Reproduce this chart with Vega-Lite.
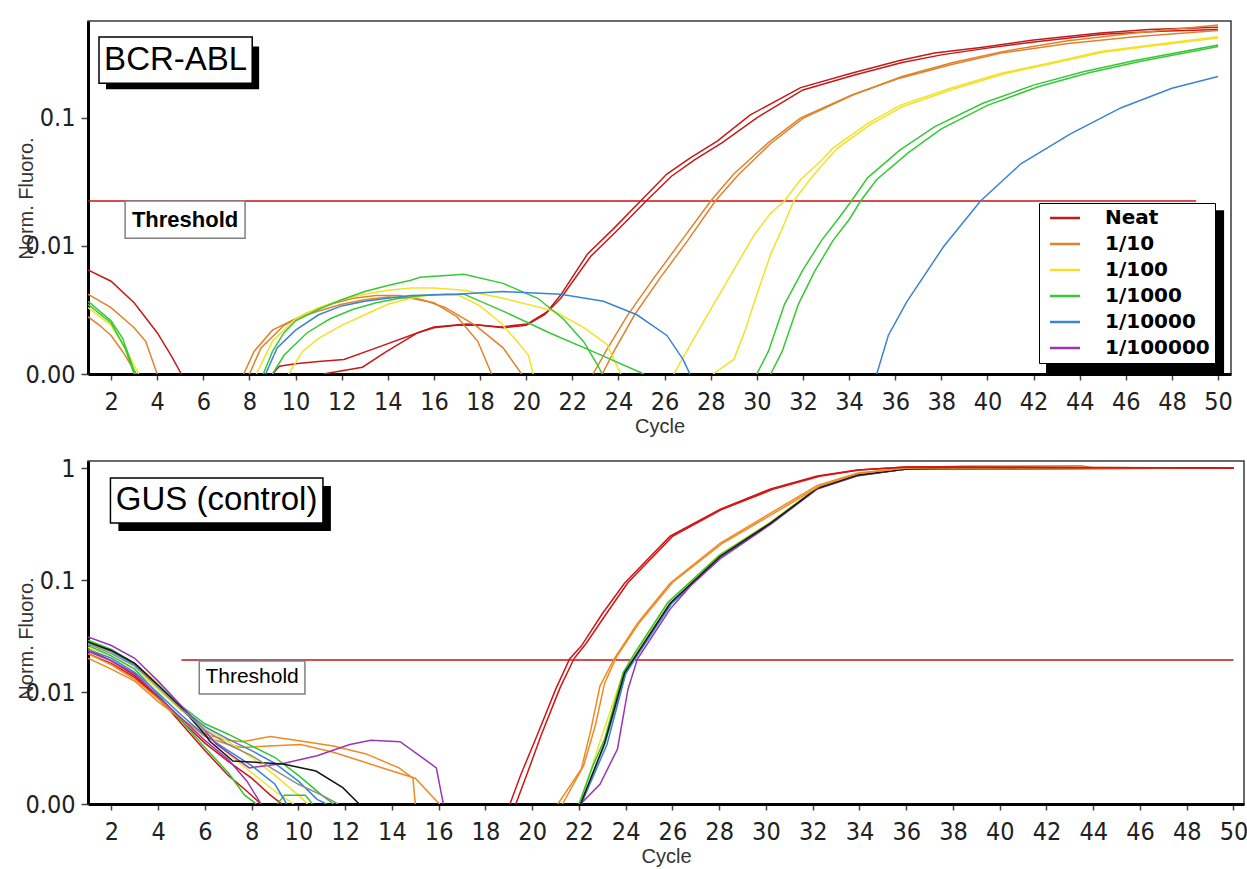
{
"$schema":"https://vega.github.io/schema/vega-lite/v6.json",
"background":"white",
"padding":{"left":15,"top":20,"right":0,"bottom":0},
"spacing":18,
"resolve":{"scale":{"color":"independent"}},
"config":{
 "view":{"stroke":"#3a3a3a","strokeWidth":1.5},
 "axis":{"gridColor":"#e3e3e3","gridWidth":1.5,"domainColor":"#000","domainWidth":3,"tickColor":"#444","tickWidth":1.5,
  "labelFont":"Liberation Sans Narrow, DejaVu Sans Condensed, sans-serif","labelFontSize":25,"labelColor":"#222",
  "titleFont":"Liberation Sans, Arial, sans-serif","titleFontSize":20,"titleFontWeight":"normal","titleColor":"#333"}
},
"datasets":{
"top":[
{"s":"Neat","r":"n0","c":1,"v":0.0065},{"s":"Neat","r":"n0","c":2,"v":0.0053},{"s":"Neat","r":"n0","c":3,"v":0.0036},{"s":"Neat","r":"n0","c":4,"v":0.0021},{"s":"Neat","r":"n0","c":4.6,"v":0.0014},{"s":"Neat","r":"n0","c":5.05,"v":0.001},
{"s":"Neat","r":"n1","c":9,"v":0.001},{"s":"Neat","r":"n1","c":9.3,"v":0.00115},{"s":"Neat","r":"n1","c":10,"v":0.0012},{"s":"Neat","r":"n1","c":11,"v":0.00125},{"s":"Neat","r":"n1","c":12.1,"v":0.0013},{"s":"Neat","r":"n1","c":13.5,"v":0.0016},{"s":"Neat","r":"n1","c":15.3,"v":0.0021},{"s":"Neat","r":"n1","c":16,"v":0.00233},{"s":"Neat","r":"n1","c":17.45,"v":0.00246},{"s":"Neat","r":"n1","c":18.9,"v":0.00233},{"s":"Neat","r":"n1","c":20.05,"v":0.00246},{"s":"Neat","r":"n1","c":20.9,"v":0.00305},{"s":"Neat","r":"n1","c":21.5,"v":0.00415},{"s":"Neat","r":"n1","c":22.65,"v":0.0086},{"s":"Neat","r":"n1","c":23.8,"v":0.0137},{"s":"Neat","r":"n1","c":24.96,"v":0.0224},{"s":"Neat","r":"n1","c":26.1,"v":0.0364},{"s":"Neat","r":"n1","c":27.1,"v":0.0485},{"s":"Neat","r":"n1","c":28.3,"v":0.066},{"s":"Neat","r":"n1","c":29.7,"v":0.105},{"s":"Neat","r":"n1","c":31.9,"v":0.172},{"s":"Neat","r":"n1","c":34.1,"v":0.223},{"s":"Neat","r":"n1","c":36.2,"v":0.28},{"s":"Neat","r":"n1","c":37.7,"v":0.32},{"s":"Neat","r":"n1","c":39.8,"v":0.356},{"s":"Neat","r":"n1","c":42,"v":0.405},{"s":"Neat","r":"n1","c":44.9,"v":0.46},{"s":"Neat","r":"n1","c":47,"v":0.49},{"s":"Neat","r":"n1","c":50,"v":0.51},
{"s":"Neat","r":"n2","c":11.2,"v":0.001},{"s":"Neat","r":"n2","c":12.9,"v":0.00113},{"s":"Neat","r":"n2","c":13.9,"v":0.00148},{"s":"Neat","r":"n2","c":15.3,"v":0.0021},{"s":"Neat","r":"n2","c":16,"v":0.0023},{"s":"Neat","r":"n2","c":17,"v":0.0024},{"s":"Neat","r":"n2","c":18,"v":0.0024},{"s":"Neat","r":"n2","c":19,"v":0.0023},{"s":"Neat","r":"n2","c":20,"v":0.0024},{"s":"Neat","r":"n2","c":20.8,"v":0.0029},{"s":"Neat","r":"n2","c":21.5,"v":0.0039},{"s":"Neat","r":"n2","c":22.8,"v":0.0083},{"s":"Neat","r":"n2","c":24,"v":0.0135},{"s":"Neat","r":"n2","c":25.2,"v":0.0224},{"s":"Neat","r":"n2","c":26.3,"v":0.035},{"s":"Neat","r":"n2","c":27.3,"v":0.047},{"s":"Neat","r":"n2","c":28.5,"v":0.064},{"s":"Neat","r":"n2","c":30,"v":0.1},{"s":"Neat","r":"n2","c":32,"v":0.165},{"s":"Neat","r":"n2","c":34.2,"v":0.215},{"s":"Neat","r":"n2","c":36.3,"v":0.27},{"s":"Neat","r":"n2","c":38,"v":0.31},{"s":"Neat","r":"n2","c":40,"v":0.35},{"s":"Neat","r":"n2","c":42.2,"v":0.395},{"s":"Neat","r":"n2","c":45,"v":0.45},{"s":"Neat","r":"n2","c":47.5,"v":0.475},{"s":"Neat","r":"n2","c":50,"v":0.49},
{"s":"1/10","r":"o0","c":1,"v":0.0042},{"s":"1/10","r":"o0","c":2,"v":0.0033},{"s":"1/10","r":"o0","c":3,"v":0.0023},{"s":"1/10","r":"o0","c":3.5,"v":0.0018},{"s":"1/10","r":"o0","c":4,"v":0.001},
{"s":"1/10","r":"o0b","c":1,"v":0.0028},{"s":"1/10","r":"o0b","c":1.5,"v":0.0024},{"s":"1/10","r":"o0b","c":2,"v":0.002},{"s":"1/10","r":"o0b","c":2.5,"v":0.0015},{"s":"1/10","r":"o0b","c":3.1,"v":0.001},
{"s":"1/10","r":"oh1","c":7.75,"v":0.001},{"s":"1/10","r":"oh1","c":8.2,"v":0.0015},{"s":"1/10","r":"oh1","c":9,"v":0.0022},{"s":"1/10","r":"oh1","c":10,"v":0.0027},{"s":"1/10","r":"oh1","c":11,"v":0.0031},{"s":"1/10","r":"oh1","c":12,"v":0.0035},{"s":"1/10","r":"oh1","c":13,"v":0.0038},{"s":"1/10","r":"oh1","c":14,"v":0.004},{"s":"1/10","r":"oh1","c":15,"v":0.0039},{"s":"1/10","r":"oh1","c":16,"v":0.0036},{"s":"1/10","r":"oh1","c":17,"v":0.0028},{"s":"1/10","r":"oh1","c":17.9,"v":0.0018},{"s":"1/10","r":"oh1","c":18.5,"v":0.001},
{"s":"1/10","r":"oh2","c":8,"v":0.001},{"s":"1/10","r":"oh2","c":8.5,"v":0.0016},{"s":"1/10","r":"oh2","c":9.5,"v":0.0024},{"s":"1/10","r":"oh2","c":10.5,"v":0.003},{"s":"1/10","r":"oh2","c":11.5,"v":0.0035},{"s":"1/10","r":"oh2","c":12.5,"v":0.0039},{"s":"1/10","r":"oh2","c":13.5,"v":0.0041},{"s":"1/10","r":"oh2","c":14.5,"v":0.0041},{"s":"1/10","r":"oh2","c":15.5,"v":0.0038},{"s":"1/10","r":"oh2","c":16.5,"v":0.0033},{"s":"1/10","r":"oh2","c":17.8,"v":0.0024},{"s":"1/10","r":"oh2","c":19,"v":0.0016},{"s":"1/10","r":"oh2","c":19.8,"v":0.001},
{"s":"1/10","r":"om1","c":22.9,"v":0.001},{"s":"1/10","r":"om1","c":23.5,"v":0.00156},{"s":"1/10","r":"om1","c":24.4,"v":0.00288},{"s":"1/10","r":"om1","c":25.5,"v":0.0055},{"s":"1/10","r":"om1","c":26.7,"v":0.0108},{"s":"1/10","r":"om1","c":28,"v":0.0224},{"s":"1/10","r":"om1","c":29,"v":0.0364},{"s":"1/10","r":"om1","c":30.5,"v":0.064},{"s":"1/10","r":"om1","c":31.9,"v":0.1},{"s":"1/10","r":"om1","c":34.1,"v":0.15},{"s":"1/10","r":"om1","c":36.2,"v":0.204},{"s":"1/10","r":"om1","c":38.4,"v":0.26},{"s":"1/10","r":"om1","c":40.6,"v":0.32},{"s":"1/10","r":"om1","c":43.5,"v":0.38},{"s":"1/10","r":"om1","c":46.4,"v":0.43},{"s":"1/10","r":"om1","c":50,"v":0.48},
{"s":"1/10","r":"om2","c":23.3,"v":0.001},{"s":"1/10","r":"om2","c":23.8,"v":0.0015},{"s":"1/10","r":"om2","c":24.7,"v":0.0029},{"s":"1/10","r":"om2","c":25.8,"v":0.0056},{"s":"1/10","r":"om2","c":27,"v":0.011},{"s":"1/10","r":"om2","c":28.2,"v":0.0224},{"s":"1/10","r":"om2","c":29.2,"v":0.036},{"s":"1/10","r":"om2","c":30.6,"v":0.063},{"s":"1/10","r":"om2","c":32,"v":0.099},{"s":"1/10","r":"om2","c":34.2,"v":0.152},{"s":"1/10","r":"om2","c":36.3,"v":0.21},{"s":"1/10","r":"om2","c":38.5,"v":0.27},{"s":"1/10","r":"om2","c":40.7,"v":0.33},{"s":"1/10","r":"om2","c":43.5,"v":0.4},{"s":"1/10","r":"om2","c":46.4,"v":0.46},{"s":"1/10","r":"om2","c":50,"v":0.53},
{"s":"1/100","r":"y0","c":1,"v":0.0033},{"s":"1/100","r":"y0","c":2,"v":0.0024},{"s":"1/100","r":"y0","c":2.6,"v":0.0016},{"s":"1/100","r":"y0","c":3.2,"v":0.001},
{"s":"1/100","r":"yh1","c":8.3,"v":0.001},{"s":"1/100","r":"yh1","c":9,"v":0.0018},{"s":"1/100","r":"yh1","c":10,"v":0.0027},{"s":"1/100","r":"yh1","c":11,"v":0.0033},{"s":"1/100","r":"yh1","c":12,"v":0.0038},{"s":"1/100","r":"yh1","c":13,"v":0.0042},{"s":"1/100","r":"yh1","c":14,"v":0.0045},{"s":"1/100","r":"yh1","c":15,"v":0.0047},{"s":"1/100","r":"yh1","c":16,"v":0.0047},{"s":"1/100","r":"yh1","c":17.3,"v":0.0045},{"s":"1/100","r":"yh1","c":19,"v":0.0039},{"s":"1/100","r":"yh1","c":21.2,"v":0.0031},{"s":"1/100","r":"yh1","c":22.5,"v":0.0023},{"s":"1/100","r":"yh1","c":23.5,"v":0.0017},{"s":"1/100","r":"yh1","c":24.1,"v":0.001},
{"s":"1/100","r":"yh2","c":9.7,"v":0.001},{"s":"1/100","r":"yh2","c":10.3,"v":0.0015},{"s":"1/100","r":"yh2","c":11,"v":0.0019},{"s":"1/100","r":"yh2","c":12,"v":0.0024},{"s":"1/100","r":"yh2","c":13,"v":0.0029},{"s":"1/100","r":"yh2","c":14,"v":0.0035},{"s":"1/100","r":"yh2","c":15,"v":0.0039},{"s":"1/100","r":"yh2","c":16,"v":0.0042},{"s":"1/100","r":"yh2","c":17.1,"v":0.0041},{"s":"1/100","r":"yh2","c":18,"v":0.0034},{"s":"1/100","r":"yh2","c":18.9,"v":0.0025},{"s":"1/100","r":"yh2","c":19.6,"v":0.0018},{"s":"1/100","r":"yh2","c":20.1,"v":0.0014},{"s":"1/100","r":"yh2","c":20.3,"v":0.001},
{"s":"1/100","r":"ym1","c":26.4,"v":0.001},{"s":"1/100","r":"ym1","c":27.2,"v":0.0018},{"s":"1/100","r":"ym1","c":28,"v":0.0032},{"s":"1/100","r":"ym1","c":29,"v":0.0065},{"s":"1/100","r":"ym1","c":29.9,"v":0.0123},{"s":"1/100","r":"ym1","c":30.6,"v":0.018},{"s":"1/100","r":"ym1","c":31.2,"v":0.0224},{"s":"1/100","r":"ym1","c":31.9,"v":0.033},{"s":"1/100","r":"ym1","c":32.8,"v":0.0464},{"s":"1/100","r":"ym1","c":33.3,"v":0.058},{"s":"1/100","r":"ym1","c":34.8,"v":0.09},{"s":"1/100","r":"ym1","c":36.2,"v":0.125},{"s":"1/100","r":"ym1","c":38.4,"v":0.17},{"s":"1/100","r":"ym1","c":40.6,"v":0.223},{"s":"1/100","r":"ym1","c":42.8,"v":0.27},{"s":"1/100","r":"ym1","c":44.9,"v":0.33},{"s":"1/100","r":"ym1","c":47.1,"v":0.37},{"s":"1/100","r":"ym1","c":50,"v":0.43},
{"s":"1/100","r":"ym2","c":28.1,"v":0.001},{"s":"1/100","r":"ym2","c":29,"v":0.0013},{"s":"1/100","r":"ym2","c":29.5,"v":0.0022},{"s":"1/100","r":"ym2","c":29.9,"v":0.0037},{"s":"1/100","r":"ym2","c":30.6,"v":0.0086},{"s":"1/100","r":"ym2","c":31.2,"v":0.015},{"s":"1/100","r":"ym2","c":31.6,"v":0.0224},{"s":"1/100","r":"ym2","c":32.3,"v":0.033},{"s":"1/100","r":"ym2","c":32.8,"v":0.042},{"s":"1/100","r":"ym2","c":33.5,"v":0.058},{"s":"1/100","r":"ym2","c":34.9,"v":0.088},{"s":"1/100","r":"ym2","c":36.3,"v":0.122},{"s":"1/100","r":"ym2","c":38.5,"v":0.167},{"s":"1/100","r":"ym2","c":40.7,"v":0.22},{"s":"1/100","r":"ym2","c":42.9,"v":0.268},{"s":"1/100","r":"ym2","c":45,"v":0.325},{"s":"1/100","r":"ym2","c":47.2,"v":0.365},{"s":"1/100","r":"ym2","c":50,"v":0.42},
{"s":"1/1000","r":"g0","c":1,"v":0.0037},{"s":"1/1000","r":"g0","c":2,"v":0.0026},{"s":"1/1000","r":"g0","c":2.5,"v":0.0019},{"s":"1/1000","r":"g0","c":3.05,"v":0.001},
{"s":"1/1000","r":"g0b","c":1,"v":0.0035},{"s":"1/1000","r":"g0b","c":2,"v":0.0025},{"s":"1/1000","r":"g0b","c":2.6,"v":0.0016},{"s":"1/1000","r":"g0b","c":3,"v":0.001},
{"s":"1/1000","r":"gh1","c":8.6,"v":0.001},{"s":"1/1000","r":"gh1","c":9,"v":0.0015},{"s":"1/1000","r":"gh1","c":9.5,"v":0.0021},{"s":"1/1000","r":"gh1","c":10,"v":0.0026},{"s":"1/1000","r":"gh1","c":11,"v":0.0032},{"s":"1/1000","r":"gh1","c":12,"v":0.0038},{"s":"1/1000","r":"gh1","c":13,"v":0.0044},{"s":"1/1000","r":"gh1","c":14,"v":0.0049},{"s":"1/1000","r":"gh1","c":15,"v":0.0054},{"s":"1/1000","r":"gh1","c":15.4,"v":0.0057},{"s":"1/1000","r":"gh1","c":17.3,"v":0.006},{"s":"1/1000","r":"gh1","c":19,"v":0.0051},{"s":"1/1000","r":"gh1","c":20.5,"v":0.0039},{"s":"1/1000","r":"gh1","c":21.6,"v":0.0027},{"s":"1/1000","r":"gh1","c":22.5,"v":0.00178},{"s":"1/1000","r":"gh1","c":23.1,"v":0.00117},{"s":"1/1000","r":"gh1","c":23.3,"v":0.001},
{"s":"1/1000","r":"gh2","c":9,"v":0.001},{"s":"1/1000","r":"gh2","c":9.5,"v":0.0014},{"s":"1/1000","r":"gh2","c":10.5,"v":0.0021},{"s":"1/1000","r":"gh2","c":11.5,"v":0.0027},{"s":"1/1000","r":"gh2","c":12.5,"v":0.0032},{"s":"1/1000","r":"gh2","c":13.5,"v":0.0036},{"s":"1/1000","r":"gh2","c":14.5,"v":0.0039},{"s":"1/1000","r":"gh2","c":15.5,"v":0.0041},{"s":"1/1000","r":"gh2","c":16.5,"v":0.0042},{"s":"1/1000","r":"gh2","c":17.3,"v":0.0042},{"s":"1/1000","r":"gh2","c":19,"v":0.0031},{"s":"1/1000","r":"gh2","c":21,"v":0.0021},{"s":"1/1000","r":"gh2","c":23,"v":0.00147},{"s":"1/1000","r":"gh2","c":25.1,"v":0.001},
{"s":"1/1000","r":"gm1","c":30,"v":0.001},{"s":"1/1000","r":"gm1","c":30.5,"v":0.0015},{"s":"1/1000","r":"gm1","c":31.2,"v":0.0035},{"s":"1/1000","r":"gm1","c":32,"v":0.0065},{"s":"1/1000","r":"gm1","c":32.8,"v":0.011},{"s":"1/1000","r":"gm1","c":33.5,"v":0.016},{"s":"1/1000","r":"gm1","c":34.1,"v":0.0224},{"s":"1/1000","r":"gm1","c":34.8,"v":0.034},{"s":"1/1000","r":"gm1","c":36.2,"v":0.056},{"s":"1/1000","r":"gm1","c":37.7,"v":0.085},{"s":"1/1000","r":"gm1","c":39.8,"v":0.13},{"s":"1/1000","r":"gm1","c":42,"v":0.18},{"s":"1/1000","r":"gm1","c":44.2,"v":0.23},{"s":"1/1000","r":"gm1","c":46.4,"v":0.28},{"s":"1/1000","r":"gm1","c":50,"v":0.37},
{"s":"1/1000","r":"gm2","c":30.6,"v":0.001},{"s":"1/1000","r":"gm2","c":31.1,"v":0.0015},{"s":"1/1000","r":"gm2","c":31.8,"v":0.0035},{"s":"1/1000","r":"gm2","c":32.5,"v":0.0063},{"s":"1/1000","r":"gm2","c":33.3,"v":0.011},{"s":"1/1000","r":"gm2","c":34,"v":0.016},{"s":"1/1000","r":"gm2","c":34.5,"v":0.0224},{"s":"1/1000","r":"gm2","c":35.2,"v":0.033},{"s":"1/1000","r":"gm2","c":36.6,"v":0.054},{"s":"1/1000","r":"gm2","c":38,"v":0.082},{"s":"1/1000","r":"gm2","c":40,"v":0.125},{"s":"1/1000","r":"gm2","c":42.2,"v":0.175},{"s":"1/1000","r":"gm2","c":44.4,"v":0.225},{"s":"1/1000","r":"gm2","c":46.6,"v":0.275},{"s":"1/1000","r":"gm2","c":50,"v":0.36},
{"s":"1/10000","r":"bh","c":8.7,"v":0.001},{"s":"1/10000","r":"bh","c":9.2,"v":0.0016},{"s":"1/10000","r":"bh","c":10,"v":0.0022},{"s":"1/10000","r":"bh","c":11,"v":0.0029},{"s":"1/10000","r":"bh","c":12,"v":0.0034},{"s":"1/10000","r":"bh","c":13,"v":0.0037},{"s":"1/10000","r":"bh","c":14,"v":0.0039},{"s":"1/10000","r":"bh","c":15,"v":0.0041},{"s":"1/10000","r":"bh","c":17,"v":0.0042},{"s":"1/10000","r":"bh","c":19,"v":0.0044},{"s":"1/10000","r":"bh","c":21.5,"v":0.0042},{"s":"1/10000","r":"bh","c":23.35,"v":0.0037},{"s":"1/10000","r":"bh","c":24.8,"v":0.0029},{"s":"1/10000","r":"bh","c":26.1,"v":0.002},{"s":"1/10000","r":"bh","c":26.8,"v":0.0013},{"s":"1/10000","r":"bh","c":27.1,"v":0.001},
{"s":"1/10000","r":"bm","c":35.2,"v":0.001},{"s":"1/10000","r":"bm","c":35.7,"v":0.002},{"s":"1/10000","r":"bm","c":36.5,"v":0.00366},{"s":"1/10000","r":"bm","c":38.1,"v":0.0099},{"s":"1/10000","r":"bm","c":39.7,"v":0.0224},{"s":"1/10000","r":"bm","c":41.45,"v":0.0438},{"s":"1/10000","r":"bm","c":43.6,"v":0.075},{"s":"1/10000","r":"bm","c":45.8,"v":0.12},{"s":"1/10000","r":"bm","c":48,"v":0.17},{"s":"1/10000","r":"bm","c":50,"v":0.21}
],
"bot":[
{"s":"Neat","r":"ra","c":1,"v":0.022},{"s":"Neat","r":"ra","c":2,"v":0.018},{"s":"Neat","r":"ra","c":3,"v":0.0135},{"s":"Neat","r":"ra","c":4,"v":0.0088},{"s":"Neat","r":"ra","c":5,"v":0.0055},{"s":"Neat","r":"ra","c":6,"v":0.0035},{"s":"Neat","r":"ra","c":7,"v":0.0024},{"s":"Neat","r":"ra","c":8,"v":0.0017},{"s":"Neat","r":"ra","c":8.8,"v":0.0012},{"s":"Neat","r":"ra","c":9.3,"v":0.001},
{"s":"Neat","r":"rb","c":1,"v":0.024},{"s":"Neat","r":"rb","c":2,"v":0.019},{"s":"Neat","r":"rb","c":3,"v":0.014},{"s":"Neat","r":"rb","c":4,"v":0.009},{"s":"Neat","r":"rb","c":5,"v":0.0052},{"s":"Neat","r":"rb","c":6,"v":0.003},{"s":"Neat","r":"rb","c":7,"v":0.0018},{"s":"Neat","r":"rb","c":7.8,"v":0.0013},{"s":"Neat","r":"rb","c":8.4,"v":0.001},
{"s":"1/10","r":"oa","c":1,"v":0.02},{"s":"1/10","r":"oa","c":2,"v":0.016},{"s":"1/10","r":"oa","c":3,"v":0.0125},{"s":"1/10","r":"oa","c":4,"v":0.0082},{"s":"1/10","r":"oa","c":5,"v":0.0057},{"s":"1/10","r":"oa","c":6,"v":0.0042},{"s":"1/10","r":"oa","c":7,"v":0.0037},{"s":"1/10","r":"oa","c":7.6,"v":0.0036},{"s":"1/10","r":"oa","c":8.8,"v":0.004},{"s":"1/10","r":"oa","c":10.1,"v":0.00365},{"s":"1/10","r":"oa","c":11.5,"v":0.0033},{"s":"1/10","r":"oa","c":12.9,"v":0.0028},{"s":"1/10","r":"oa","c":14.3,"v":0.0021},{"s":"1/10","r":"oa","c":14.9,"v":0.0017},{"s":"1/10","r":"oa","c":15,"v":0.001},
{"s":"1/10","r":"ob","c":1,"v":0.022},{"s":"1/10","r":"ob","c":2,"v":0.0175},{"s":"1/10","r":"ob","c":3,"v":0.013},{"s":"1/10","r":"ob","c":4,"v":0.0087},{"s":"1/10","r":"ob","c":5,"v":0.0058},{"s":"1/10","r":"ob","c":6,"v":0.004},{"s":"1/10","r":"ob","c":7,"v":0.0034},{"s":"1/10","r":"ob","c":7.6,"v":0.0032},{"s":"1/10","r":"ob","c":10.1,"v":0.0034},{"s":"1/10","r":"ob","c":11.5,"v":0.0029},{"s":"1/10","r":"ob","c":13.6,"v":0.0021},{"s":"1/10","r":"ob","c":15,"v":0.0017},{"s":"1/10","r":"ob","c":15.9,"v":0.00107},{"s":"1/10","r":"ob","c":16.05,"v":0.001},
{"s":"1/100","r":"ya","c":1,"v":0.027},{"s":"1/100","r":"ya","c":2,"v":0.023},{"s":"1/100","r":"ya","c":3,"v":0.018},{"s":"1/100","r":"ya","c":4,"v":0.012},{"s":"1/100","r":"ya","c":5,"v":0.0072},{"s":"1/100","r":"ya","c":6,"v":0.0045},{"s":"1/100","r":"ya","c":7,"v":0.0028},{"s":"1/100","r":"ya","c":8,"v":0.0019},{"s":"1/100","r":"ya","c":9,"v":0.0013},{"s":"1/100","r":"ya","c":9.8,"v":0.001},
{"s":"1/100","r":"yb","c":1,"v":0.025},{"s":"1/100","r":"yb","c":2,"v":0.021},{"s":"1/100","r":"yb","c":3,"v":0.016},{"s":"1/100","r":"yb","c":4,"v":0.0105},{"s":"1/100","r":"yb","c":5,"v":0.0068},{"s":"1/100","r":"yb","c":6,"v":0.0048},{"s":"1/100","r":"yb","c":7,"v":0.0036},{"s":"1/100","r":"yb","c":8,"v":0.0026},{"s":"1/100","r":"yb","c":9,"v":0.0018},{"s":"1/100","r":"yb","c":10,"v":0.0012},{"s":"1/100","r":"yb","c":10.4,"v":0.001},
{"s":"1/1000","r":"ga","c":1,"v":0.029},{"s":"1/1000","r":"ga","c":2,"v":0.024},{"s":"1/1000","r":"ga","c":3,"v":0.018},{"s":"1/1000","r":"ga","c":4,"v":0.0115},{"s":"1/1000","r":"ga","c":5,"v":0.0075},{"s":"1/1000","r":"ga","c":6,"v":0.0052},{"s":"1/1000","r":"ga","c":7,"v":0.0042},{"s":"1/1000","r":"ga","c":8,"v":0.0033},{"s":"1/1000","r":"ga","c":9,"v":0.0026},{"s":"1/1000","r":"ga","c":10,"v":0.0018},{"s":"1/1000","r":"ga","c":11,"v":0.0012},{"s":"1/1000","r":"ga","c":11.5,"v":0.001},
{"s":"1/1000","r":"gb","c":1,"v":0.026},{"s":"1/1000","r":"gb","c":2,"v":0.021},{"s":"1/1000","r":"gb","c":3,"v":0.016},{"s":"1/1000","r":"gb","c":4,"v":0.0095},{"s":"1/1000","r":"gb","c":5,"v":0.0055},{"s":"1/1000","r":"gb","c":6,"v":0.0032},{"s":"1/1000","r":"gb","c":7,"v":0.0019},{"s":"1/1000","r":"gb","c":7.7,"v":0.0012},{"s":"1/1000","r":"gb","c":8.2,"v":0.001},
{"s":"1/1000","r":"gc","c":9.1,"v":0.001},{"s":"1/1000","r":"gc","c":9.4,"v":0.0012},{"s":"1/1000","r":"gc","c":10.3,"v":0.0012},{"s":"1/1000","r":"gc","c":10.6,"v":0.001},
{"s":"1/10000","r":"ba","c":1,"v":0.028},{"s":"1/10000","r":"ba","c":2,"v":0.023},{"s":"1/10000","r":"ba","c":3,"v":0.0175},{"s":"1/10000","r":"ba","c":4,"v":0.0112},{"s":"1/10000","r":"ba","c":5,"v":0.0072},{"s":"1/10000","r":"ba","c":6,"v":0.0049},{"s":"1/10000","r":"ba","c":7,"v":0.0038},{"s":"1/10000","r":"ba","c":8,"v":0.003},{"s":"1/10000","r":"ba","c":9,"v":0.0023},{"s":"1/10000","r":"ba","c":10,"v":0.0016},{"s":"1/10000","r":"ba","c":10.8,"v":0.0011},{"s":"1/10000","r":"ba","c":11.2,"v":0.001},
{"s":"1/10000","r":"bb","c":1,"v":0.024},{"s":"1/10000","r":"bb","c":2,"v":0.02},{"s":"1/10000","r":"bb","c":3,"v":0.015},{"s":"1/10000","r":"bb","c":4,"v":0.0098},{"s":"1/10000","r":"bb","c":5,"v":0.0062},{"s":"1/10000","r":"bb","c":6,"v":0.0041},{"s":"1/10000","r":"bb","c":7,"v":0.003},{"s":"1/10000","r":"bb","c":8,"v":0.0022},{"s":"1/10000","r":"bb","c":9,"v":0.0015},{"s":"1/10000","r":"bb","c":9.5,"v":0.001},
{"s":"1/100000","r":"pa","c":1,"v":0.031},{"s":"1/100000","r":"pa","c":2,"v":0.026},{"s":"1/100000","r":"pa","c":3,"v":0.02},{"s":"1/100000","r":"pa","c":4,"v":0.0125},{"s":"1/100000","r":"pa","c":5,"v":0.0075},{"s":"1/100000","r":"pa","c":6,"v":0.0045},{"s":"1/100000","r":"pa","c":6.5,"v":0.0034},{"s":"1/100000","r":"pa","c":7.9,"v":0.0021},{"s":"1/100000","r":"pa","c":9.35,"v":0.0023},{"s":"1/100000","r":"pa","c":10.8,"v":0.0027},{"s":"1/100000","r":"pa","c":12.2,"v":0.0034},{"s":"1/100000","r":"pa","c":13.1,"v":0.0037},{"s":"1/100000","r":"pa","c":14.35,"v":0.0036},{"s":"1/100000","r":"pa","c":15.3,"v":0.0026},{"s":"1/100000","r":"pa","c":15.9,"v":0.0021},{"s":"1/100000","r":"pa","c":16.2,"v":0.001},
{"s":"1/100000","r":"pb","c":1,"v":0.023},{"s":"1/100000","r":"pb","c":2,"v":0.019},{"s":"1/100000","r":"pb","c":3,"v":0.0145},{"s":"1/100000","r":"pb","c":4,"v":0.0092},{"s":"1/100000","r":"pb","c":5,"v":0.0058},{"s":"1/100000","r":"pb","c":6,"v":0.0037},{"s":"1/100000","r":"pb","c":7,"v":0.0025},{"s":"1/100000","r":"pb","c":7.8,"v":0.0016},{"s":"1/100000","r":"pb","c":8.4,"v":0.001},
{"s":"NTC","r":"ka","c":1,"v":0.028},{"s":"NTC","r":"ka","c":2,"v":0.0235},{"s":"NTC","r":"ka","c":3,"v":0.018},{"s":"NTC","r":"ka","c":4,"v":0.0115},{"s":"NTC","r":"ka","c":5,"v":0.0072},{"s":"NTC","r":"ka","c":6,"v":0.0042},{"s":"NTC","r":"ka","c":6.2,"v":0.00365},{"s":"NTC","r":"ka","c":7.2,"v":0.00242},{"s":"NTC","r":"ka","c":9.35,"v":0.00228},{"s":"NTC","r":"ka","c":10.75,"v":0.00197},{"s":"NTC","r":"ka","c":11.9,"v":0.0014},{"s":"NTC","r":"ka","c":12.6,"v":0.001},
{"s":"Calibrator","r":"xa","c":1,"v":0.027},{"s":"Calibrator","r":"xa","c":2,"v":0.022},{"s":"Calibrator","r":"xa","c":3,"v":0.017},{"s":"Calibrator","r":"xa","c":4,"v":0.011},{"s":"Calibrator","r":"xa","c":5,"v":0.007},{"s":"Calibrator","r":"xa","c":6,"v":0.0046},{"s":"Calibrator","r":"xa","c":7,"v":0.0034},{"s":"Calibrator","r":"xa","c":8,"v":0.0027},{"s":"Calibrator","r":"xa","c":9,"v":0.002},{"s":"Calibrator","r":"xa","c":10,"v":0.0015},{"s":"Calibrator","r":"xa","c":11,"v":0.0012},{"s":"Calibrator","r":"xa","c":11.7,"v":0.001},
{"s":"Calibrator","r":"xm","c":22.1,"v":0.001},{"s":"Calibrator","r":"xm","c":23.1,"v":0.0034},{"s":"Calibrator","r":"xm","c":24,"v":0.0146},{"s":"Calibrator","r":"xm","c":24.5,"v":0.0221},{"s":"Calibrator","r":"xm","c":25.9,"v":0.061},{"s":"Calibrator","r":"xm","c":28.05,"v":0.162},{"s":"Calibrator","r":"xm","c":30.2,"v":0.32},{"s":"Calibrator","r":"xm","c":32.2,"v":0.655},{"s":"Calibrator","r":"xm","c":33.9,"v":0.855},{"s":"Calibrator","r":"xm","c":36,"v":0.98},{"s":"Calibrator","r":"xm","c":50,"v":1.0},
{"s":"1/100","r":"ymm","c":22.05,"v":0.001},{"s":"1/100","r":"ymm","c":22.9,"v":0.0036},{"s":"1/100","r":"ymm","c":23.9,"v":0.015},{"s":"1/100","r":"ymm","c":24.45,"v":0.0225},{"s":"1/100","r":"ymm","c":25.85,"v":0.064},{"s":"1/100","r":"ymm","c":28,"v":0.168},{"s":"1/100","r":"ymm","c":30.2,"v":0.33},{"s":"1/100","r":"ymm","c":32.2,"v":0.67},{"s":"1/100","r":"ymm","c":33.9,"v":0.87},{"s":"1/100","r":"ymm","c":36,"v":0.99},{"s":"1/100","r":"ymm","c":50,"v":1.0},
{"s":"1/10000","r":"bmm","c":22.1,"v":0.001},{"s":"1/10000","r":"bmm","c":23.2,"v":0.0034},{"s":"1/10000","r":"bmm","c":24,"v":0.0145},{"s":"1/10000","r":"bmm","c":24.55,"v":0.022},{"s":"1/10000","r":"bmm","c":25.95,"v":0.061},{"s":"1/10000","r":"bmm","c":28.1,"v":0.162},{"s":"1/10000","r":"bmm","c":30.25,"v":0.32},{"s":"1/10000","r":"bmm","c":32.2,"v":0.655},{"s":"1/10000","r":"bmm","c":33.9,"v":0.855},{"s":"1/10000","r":"bmm","c":36,"v":0.98},{"s":"1/10000","r":"bmm","c":50,"v":1.0},
{"s":"1/100000","r":"pmm","c":22.07,"v":0.001},{"s":"1/100000","r":"pmm","c":22.9,"v":0.0015},{"s":"1/100000","r":"pmm","c":23.65,"v":0.0031},{"s":"1/100000","r":"pmm","c":24.1,"v":0.0106},{"s":"1/100000","r":"pmm","c":24.5,"v":0.0197},{"s":"1/100000","r":"pmm","c":25.9,"v":0.055},{"s":"1/100000","r":"pmm","c":26.8,"v":0.09},{"s":"1/100000","r":"pmm","c":28.05,"v":0.155},{"s":"1/100000","r":"pmm","c":30.2,"v":0.315},{"s":"1/100000","r":"pmm","c":32.2,"v":0.65},{"s":"1/100000","r":"pmm","c":33.9,"v":0.85},{"s":"1/100000","r":"pmm","c":36,"v":0.98},{"s":"1/100000","r":"pmm","c":50,"v":1.0},
{"s":"1/1000","r":"gmm","c":22,"v":0.001},{"s":"1/1000","r":"gmm","c":22.6,"v":0.0022},{"s":"1/1000","r":"gmm","c":23.1,"v":0.0038},{"s":"1/1000","r":"gmm","c":23.9,"v":0.015},{"s":"1/1000","r":"gmm","c":24.4,"v":0.0225},{"s":"1/1000","r":"gmm","c":25.8,"v":0.063},{"s":"1/1000","r":"gmm","c":28,"v":0.165},{"s":"1/1000","r":"gmm","c":30.2,"v":0.325},{"s":"1/1000","r":"gmm","c":32.2,"v":0.66},{"s":"1/1000","r":"gmm","c":33.9,"v":0.86},{"s":"1/1000","r":"gmm","c":36,"v":0.98},{"s":"1/1000","r":"gmm","c":38,"v":1.0},{"s":"1/1000","r":"gmm","c":50,"v":1.0},
{"s":"NTC","r":"kmm","c":22.07,"v":0.001},{"s":"NTC","r":"kmm","c":23.1,"v":0.0035},{"s":"NTC","r":"kmm","c":23.95,"v":0.0148},{"s":"NTC","r":"kmm","c":24.5,"v":0.0222},{"s":"NTC","r":"kmm","c":25.9,"v":0.062},{"s":"NTC","r":"kmm","c":28.05,"v":0.163},{"s":"NTC","r":"kmm","c":30.2,"v":0.322},{"s":"NTC","r":"kmm","c":32.2,"v":0.66},{"s":"NTC","r":"kmm","c":33.9,"v":0.86},{"s":"NTC","r":"kmm","c":36,"v":0.98},{"s":"NTC","r":"kmm","c":38,"v":1.0},{"s":"NTC","r":"kmm","c":50,"v":1.0},
{"s":"1/10","r":"om1","c":21.1,"v":0.001},{"s":"1/10","r":"om1","c":22.1,"v":0.00205},{"s":"1/10","r":"om1","c":22.5,"v":0.0045},{"s":"1/10","r":"om1","c":22.9,"v":0.0113},{"s":"1/10","r":"om1","c":23.5,"v":0.0197},{"s":"1/10","r":"om1","c":24.5,"v":0.041},{"s":"1/10","r":"om1","c":25.9,"v":0.0935},{"s":"1/10","r":"om1","c":28.05,"v":0.214},{"s":"1/10","r":"om1","c":30.2,"v":0.396},{"s":"1/10","r":"om1","c":32.2,"v":0.7},{"s":"1/10","r":"om1","c":33.9,"v":0.9},{"s":"1/10","r":"om1","c":36,"v":1.0},{"s":"1/10","r":"om1","c":38.5,"v":1.04},{"s":"1/10","r":"om1","c":43.5,"v":1.05},{"s":"1/10","r":"om1","c":44,"v":1.0},{"s":"1/10","r":"om1","c":50,"v":1.0},
{"s":"1/10","r":"om2","c":21.3,"v":0.001},{"s":"1/10","r":"om2","c":22.2,"v":0.0022},{"s":"1/10","r":"om2","c":22.7,"v":0.005},{"s":"1/10","r":"om2","c":23.1,"v":0.012},{"s":"1/10","r":"om2","c":23.6,"v":0.0205},{"s":"1/10","r":"om2","c":24.6,"v":0.042},{"s":"1/10","r":"om2","c":26,"v":0.095},{"s":"1/10","r":"om2","c":28.1,"v":0.21},{"s":"1/10","r":"om2","c":30.3,"v":0.39},{"s":"1/10","r":"om2","c":32.3,"v":0.69},{"s":"1/10","r":"om2","c":34,"v":0.9},{"s":"1/10","r":"om2","c":36,"v":1.0},{"s":"1/10","r":"om2","c":50,"v":1.0},
{"s":"Neat","r":"rm1","c":19.05,"v":0.001},{"s":"Neat","r":"rm1","c":19.5,"v":0.0018},{"s":"Neat","r":"rm1","c":20.2,"v":0.00405},{"s":"Neat","r":"rm1","c":21,"v":0.0105},{"s":"Neat","r":"rm1","c":21.6,"v":0.0197},{"s":"Neat","r":"rm1","c":22.1,"v":0.0257},{"s":"Neat","r":"rm1","c":23,"v":0.05},{"s":"Neat","r":"rm1","c":23.95,"v":0.0935},{"s":"Neat","r":"rm1","c":25.9,"v":0.246},{"s":"Neat","r":"rm1","c":28.05,"v":0.43},{"s":"Neat","r":"rm1","c":30.2,"v":0.65},{"s":"Neat","r":"rm1","c":32.2,"v":0.85},{"s":"Neat","r":"rm1","c":33.9,"v":0.96},{"s":"Neat","r":"rm1","c":36,"v":1.02},{"s":"Neat","r":"rm1","c":38,"v":1.02},{"s":"Neat","r":"rm1","c":42,"v":1.01},{"s":"Neat","r":"rm1","c":50,"v":1.0},
{"s":"Neat","r":"rm2","c":19.3,"v":0.001},{"s":"Neat","r":"rm2","c":19.8,"v":0.0019},{"s":"Neat","r":"rm2","c":20.4,"v":0.0042},{"s":"Neat","r":"rm2","c":21.2,"v":0.011},{"s":"Neat","r":"rm2","c":21.8,"v":0.02},{"s":"Neat","r":"rm2","c":22.3,"v":0.027},{"s":"Neat","r":"rm2","c":23.2,"v":0.051},{"s":"Neat","r":"rm2","c":24.1,"v":0.095},{"s":"Neat","r":"rm2","c":26,"v":0.245},{"s":"Neat","r":"rm2","c":28.1,"v":0.425},{"s":"Neat","r":"rm2","c":30.3,"v":0.645},{"s":"Neat","r":"rm2","c":32.3,"v":0.845},{"s":"Neat","r":"rm2","c":34,"v":0.96},{"s":"Neat","r":"rm2","c":36,"v":1.02},{"s":"Neat","r":"rm2","c":50,"v":1.0}
]
},
"vconcat":[
{
 "width":1143,"height":353,
 "layer":[
  {"data":{"values":[{}]},"mark":{"type":"rect","fill":"#000"},
   "encoding":{"x":{"datum":1.78,"type":"quantitative"},"x2":{"datum":8.42},"y":{"datum":0.36,"type":"quantitative"},"y2":{"datum":0.167}}},
  {"data":{"values":[{}]},"mark":{"type":"rect","fill":"#000","clip":true},
   "encoding":{"x":{"datum":42.54,"type":"quantitative"},"x2":{"datum":50.26},"y":{"datum":0.019,"type":"quantitative"},"y2":{"datum":0.001}}},
  {"data":{"values":[{}]},"mark":{"type":"rule","color":"#cc1010","strokeWidth":1.5},
   "encoding":{"x":{"datum":1,"type":"quantitative"},"x2":{"datum":49.05},"y":{"datum":0.0224,"type":"quantitative"}}},
  {"data":{"name":"top"},"mark":{"type":"line","clip":true,"strokeWidth":1.5},
   "encoding":{
    "x":{"field":"c","type":"quantitative","scale":{"domain":[1,50.56],"nice":false,"zero":false},
      "axis":{"values":[2,4,6,8,10,12,14,16,18,20,22,24,26,28,30,32,34,36,38,40,42,44,46,48,50],"tickSize":6,"labelPadding":9,"labelFlush":false,"labelOverlap":false,"title":"Cycle","titlePadding":2}},
    "y":{"field":"v","type":"quantitative","scale":{"type":"log","domain":[0.001,0.57],"nice":false},
      "axis":{"values":[0.001,0.01,0.1],"labelExpr":"datum.value < 0.005 ? '0.00' : datum.value < 0.05 ? '0.01' : datum.value < 0.5 ? '0.1' : '1'","tickSize":7,"labelPadding":6,"title":"Norm. Fluoro.","titleX":-62,"titleY":177,"titleAngle":-90,"titleBaseline":"middle","titleAlign":"center"}},
    "color":{"field":"s","type":"nominal","scale":{"domain":["Neat","1/10","1/100","1/1000","1/10000","1/100000"],"range":["#c41a1a","#e0822c","#f2e227","#37c837","#3a84d4","#9a35b5"]},
      "legend":{"orient":"none","legendX":951,"legendY":182,"title":null,"symbolType":"M-2,0H2","symbolSize":225,"symbolStrokeWidth":2.5,"symbolOffset":11,"padding":5,"rowPadding":6,"labelOffset":30,"labelFont":"DejaVu Sans, sans-serif","labelFontWeight":"bold","labelFontSize":20,"labelColor":"#000","strokeColor":"#000","fillColor":"#fff"}},
    "detail":{"field":"r"}
   }},
  {"data":{"values":[{}]},"mark":{"type":"rect","fill":"#fff","stroke":"#000","strokeWidth":1.5},
   "encoding":{"x":{"datum":1.477,"type":"quantitative"},"x2":{"datum":8.12},"y":{"datum":0.428,"type":"quantitative"},"y2":{"datum":0.186}}},
  {"data":{"values":[{}]},"mark":{"type":"text","font":"Liberation Sans, Arial, sans-serif","fontSize":33,"color":"#000","align":"center","baseline":"middle"},
   "encoding":{"x":{"datum":4.8,"type":"quantitative"},"y":{"datum":0.282,"type":"quantitative"},"text":{"value":"BCR-ABL"}}},
  {"data":{"values":[{}]},"mark":{"type":"rect","fill":"#fff","stroke":"#808080","strokeWidth":1.5},
   "encoding":{"x":{"datum":2.61,"type":"quantitative"},"x2":{"datum":7.81},"y":{"datum":0.0224,"type":"quantitative"},"y2":{"datum":0.01146}}},
  {"data":{"values":[{}]},"mark":{"type":"text","font":"Liberation Sans, Arial, sans-serif","fontSize":22,"fontWeight":"bold","color":"#000","align":"center","baseline":"middle"},
   "encoding":{"x":{"datum":5.21,"type":"quantitative"},"y":{"datum":0.016,"type":"quantitative"},"text":{"value":"Threshold"}}}
 ]
},
{
 "width":1156,"height":343,
 "layer":[
  {"data":{"values":[{}]},"mark":{"type":"rect","fill":"#000"},
   "encoding":{"x":{"datum":2.3,"type":"quantitative"},"x2":{"datum":11.39},"y":{"datum":0.69,"type":"quantitative"},"y2":{"datum":0.274}}},
  {"data":{"values":[{}]},"mark":{"type":"rule","color":"#cc1010","strokeWidth":1.5},
   "encoding":{"x":{"datum":5,"type":"quantitative"},"x2":{"datum":50},"y":{"datum":0.0193,"type":"quantitative"}}},
  {"data":{"name":"bot"},"mark":{"type":"line","clip":true,"strokeWidth":1.5},
   "encoding":{
    "x":{"field":"c","type":"quantitative","scale":{"domain":[1,50.45],"nice":false,"zero":false},
      "axis":{"values":[2,4,6,8,10,12,14,16,18,20,22,24,26,28,30,32,34,36,38,40,42,44,46,48,50],"tickSize":6,"labelPadding":9,"labelFlush":false,"labelOverlap":false,"title":"Cycle","titlePadding":2}},
    "y":{"field":"v","type":"quantitative","scale":{"type":"log","domain":[0.001,1.155],"nice":false},
      "axis":{"values":[0.001,0.01,0.1,1],"labelExpr":"datum.value < 0.005 ? '0.00' : datum.value < 0.05 ? '0.01' : datum.value < 0.5 ? '0.1' : '1'","tickSize":7,"labelPadding":6,"title":"Norm. Fluoro.","titleX":-62,"titleY":177,"titleAngle":-90,"titleBaseline":"middle","titleAlign":"center"}},
    "color":{"field":"s","type":"nominal","scale":{"domain":["Neat","1/10","1/100","1/1000","1/10000","1/100000","NTC","Calibrator"],"range":["#d01515","#ee8a22","#f2e227","#2ec82e","#3a84d4","#9a35b5","#151515","#8c8c8c"]},"legend":null},
    "detail":{"field":"r"}
   }},
  {"data":{"values":[{}]},"mark":{"type":"rect","fill":"#fff","stroke":"#000","strokeWidth":1.5},
   "encoding":{"x":{"datum":1.96,"type":"quantitative"},"x2":{"datum":11.05},"y":{"datum":0.814,"type":"quantitative"},"y2":{"datum":0.323}}},
  {"data":{"values":[{}]},"mark":{"type":"text","font":"Liberation Sans, Arial, sans-serif","fontSize":33,"color":"#000","align":"center","baseline":"middle"},
   "encoding":{"x":{"datum":6.5,"type":"quantitative"},"y":{"datum":0.513,"type":"quantitative"},"text":{"value":"GUS (control)"}}},
  {"data":{"values":[{}]},"mark":{"type":"rect","fill":"#fff","stroke":"#808080","strokeWidth":1.5},
   "encoding":{"x":{"datum":5.76,"type":"quantitative"},"x2":{"datum":10.28},"y":{"datum":0.0189,"type":"quantitative"},"y2":{"datum":0.0096}}},
  {"data":{"values":[{}]},"mark":{"type":"text","font":"Liberation Sans, Arial, sans-serif","fontSize":21,"color":"#000","align":"center","baseline":"middle"},
   "encoding":{"x":{"datum":8.02,"type":"quantitative"},"y":{"datum":0.01348,"type":"quantitative"},"text":{"value":"Threshold"}}}
 ]
}
]
}
